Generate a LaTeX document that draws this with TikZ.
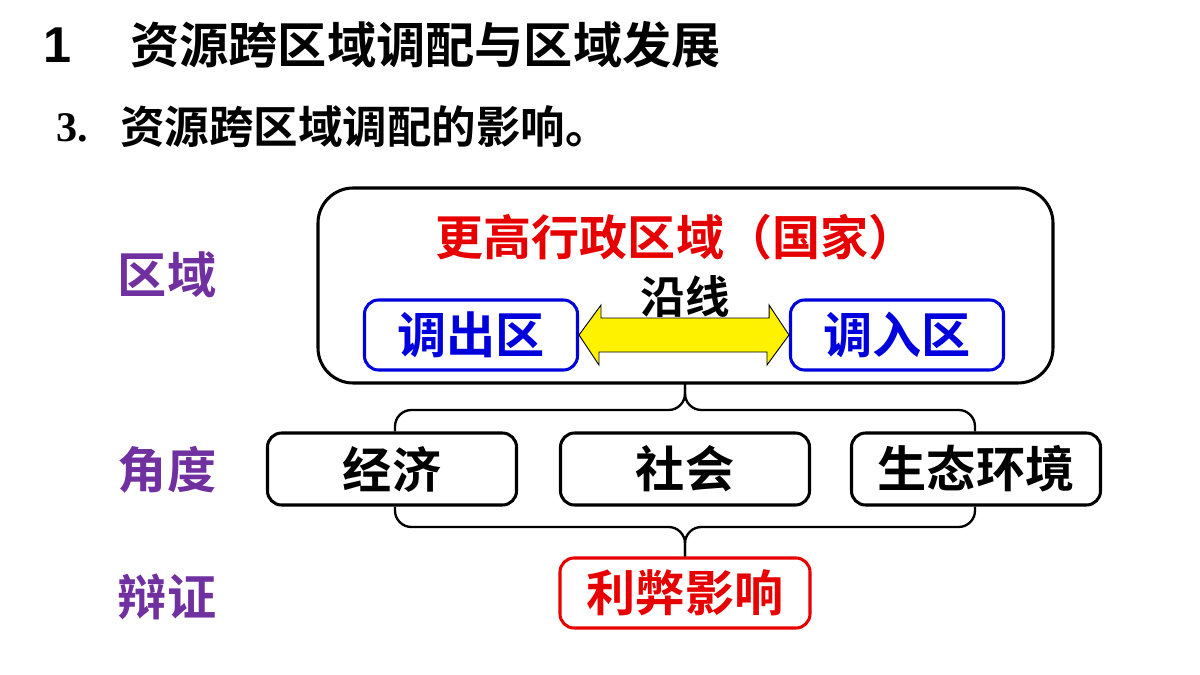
\documentclass[tikz,border=0pt]{standalone}
\usepackage{fontspec}
\newfontfamily\cjk{Noto Sans CJK SC Bold}
\newfontfamily\ser{Liberation Serif}
\newfontfamily\san{Liberation Sans}
\definecolor{myred}{RGB}{230,0,0}
\definecolor{myblue}{RGB}{0,0,220}
\definecolor{mypurple}{RGB}{112,48,160}
\begin{document}
\begin{tikzpicture}[x=0.03cm,y=-0.03cm,
  box/.style={draw,line width=2.6pt,rounded corners=12pt,inner sep=0pt},
  txt/.style={inner sep=0pt},
  br/.style={line width=2pt,rounded corners=14pt}]
\useasboundingbox (0,0) rectangle (1200,675);
\node[inner sep=0pt,font=\san\bfseries\fontsize{43}{46}\selectfont] (n1) at (58,45) {1};
\node[txt,anchor=west,font=\cjk\fontsize{42}{46}\selectfont] (t1) at (130,45) {资源跨区域调配与区域发展};
\node[inner sep=0pt,font=\ser\bfseries\fontsize{36}{40}\selectfont] (n3) at (72,128) {3.};
\node[txt,anchor=west,font=\cjk\fontsize{38}{42}\selectfont] (t3) at (120,127) {资源跨区域调配的影响。};
\draw[line width=2.6pt,rounded corners=30pt] (318,188) rectangle (1053,383);
\coordinate (bigb) at (685,383);
\node[txt,text=myred,font=\cjk\fontsize{41}{44}\selectfont] (gov) at (676,237) {更高行政区域（国家）};
\node[txt,font=\cjk\fontsize{38}{40}\selectfont] (yx) at (685,297) {沿线};
\node[box,draw=myblue,minimum width=213*0.03cm,minimum height=70*0.03cm,text=myblue] (out) at (471,335) {\cjk\fontsize{42}{44}\selectfont 调出区};
\node[box,draw=myblue,minimum width=213*0.03cm,minimum height=70*0.03cm,text=myblue] (in) at (897,335) {\cjk\fontsize{42}{44}\selectfont 调入区};
\draw[fill=yellow,line width=0.8pt] (out.east) -- ++(22,-30) -- ++(0,13) -- ++(168,0) -- ++(0,-13) -- (in.west) -- ++(-22,30) -- ++(0,-13) -- ++(-168,0) -- ++(0,13) -- cycle;
\foreach \n/\x/\t in {jj/392/经济,sh/685/社会,st/976/生态环境}
  \node[box,minimum width=249*0.03cm,minimum height=72*0.03cm] (\n) at (\x,469) {\cjk\fontsize{42}{44}\selectfont \t};
\node[box,draw=myred,text=myred,minimum width=250*0.03cm,minimum height=70*0.03cm] (lb) at (685,593) {\cjk\fontsize{42}{44}\selectfont 利弊影响};
\draw[br] (jj.north -| 395,0) -- (395,410) -- (685,410) -- (bigb);
\draw[br] (st.north -| 975,0) -- (975,410) -- (685,410) -- (bigb);
\draw[br] (jj.south -| 395,0) -- (395,527) -- (685,527) -- (lb.north);
\draw[br] (st.south -| 975,0) -- (975,527) -- (685,527) -- (lb.north);
\foreach \n/\y/\t in {la/275/区域,lj/470/角度,lc/597/辩证}
  \node[txt,text=mypurple,font=\cjk\fontsize{42}{44}\selectfont] (\n) at (167,\y) {\t};
\end{tikzpicture}
\end{document}
